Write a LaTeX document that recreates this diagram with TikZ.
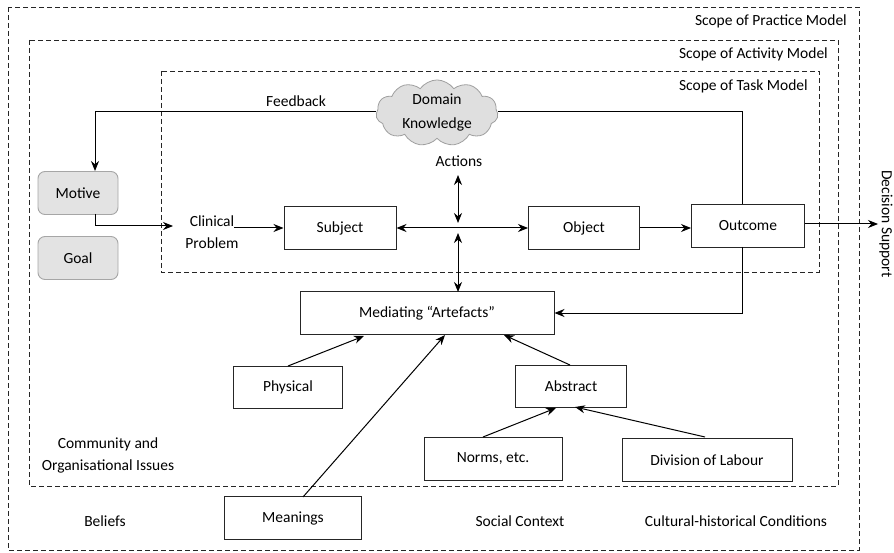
\documentclass[tikz,border=0pt]{standalone}
\usepackage{fontspec}
\setmainfont{Carlito}
\usetikzlibrary{arrows.meta,shapes.symbols}
\begin{document}
\begin{tikzpicture}[x=1pt,y=-1pt,
  font=\fontsize{15.5}{22}\selectfont,
  scope/.style={draw, dashed, dash pattern=on 5pt off 3pt, line width=0.8pt, draw=black!85},
  box/.style={draw, line width=1pt, inner sep=0pt, draw=black!85},
  gbox/.style={draw=gray!70, fill=gray!22, rounded corners=7pt, line width=0.9pt, inner sep=0pt},
  lbl/.style={inner sep=1pt, align=center},
  arr/.style={line width=1pt, -{Stealth[length=10pt,width=8pt]}},
  darr/.style={line width=1pt, {Stealth[length=10pt,width=8pt]}-{Stealth[length=10pt,width=8pt]}},
  ln/.style={line width=1pt}]
\useasboundingbox (0,0) rectangle (894,553);
% scopes
\draw[scope] (8,7) rectangle (859,550);
\draw[scope] (29,40) rectangle (838,486);
\draw[scope] (161,71) rectangle (819,272);
\node[lbl, anchor=east] (tp) at (848,21) {Scope of Practice Model};
\node[lbl, anchor=east] (ta) at (829,54) {Scope of Activity Model};
\node[lbl, anchor=east] (tt) at (809,86) {Scope of Task Model};
% cloud
\node[cloud, cloud puffs=11, cloud puff arc=110, aspect=2, draw=gray!75, fill=gray!25, line width=0.8pt,
  minimum width=122pt, minimum height=62pt, inner sep=0pt, align=center, font=\fontsize{15.5}{24}\selectfont] (dk) at (437,113) {Domain\\Knowledge};
\node[lbl] (fb) at (296,101) {Feedback};
% left boxes
\node[gbox, minimum width=80pt, minimum height=43pt] (mot) at (78,193) {Motive};
\node[gbox, minimum width=80pt, minimum height=43pt] (goal) at (78,258) {Goal};
\node[lbl] (cp) at (212,232) {Clinical\\Problem};
% task boxes
\node[box, minimum width=112pt, minimum height=43pt] (sub) at (340,228) {Subject};
\node[box, minimum width=111pt, minimum height=43pt] (obj) at (584,228) {Object};
\node[box, minimum width=113pt, minimum height=43pt] (out) at (748,226) {Outcome};
\node[lbl] (act) at (459,161) {Actions};
% mediating
\node[box, minimum width=254pt, minimum height=43pt] (med) at (427,313) {Mediating “Artefacts”};
\node[box, minimum width=109pt, minimum height=42pt] (phy) at (288,387) {Physical};
\node[box, minimum width=111pt, minimum height=42pt] (abs) at (571,386) {Abstract};
\node[box, minimum width=138pt, minimum height=43pt] (nor) at (493,459) {Norms, etc.};
\node[box, minimum width=170pt, minimum height=43pt] (div) at (707,460) {Division of Labour};
\node[box, minimum width=137pt, minimum height=43pt] (mea) at (293,518) {Meanings};
% texts
\node[lbl] (com) at (108,455) {Community and\\Organisational Issues};
\node[lbl] (bel) at (105,521) {Beliefs};
\node[lbl] (soc) at (520,521) {Social Context};
\node[lbl] (cul) at (736,521) {Cultural-historical Conditions};
\node[lbl, rotate=-90] (ds) at (886,224) {Decision Support};
% feedback loop
\draw[arr] (dk.west |- 0,112) -- (95,112) -- (95,171);
\draw[ln] (dk.east |- 0,112) -- (742,112) -- (742,204);
% motive to clinical problem
\draw[ln] (95,214) -- (95,226);
\draw[arr] (95,226) -- (173,226);
\draw[arr] (234,228) -- (sub.west);
% actions
\draw[darr] (sub.east) -- (obj.west);
\draw[darr] (458,175) -- (458,223);
\draw[darr] (458,233) -- (458,292);
\draw[arr] (obj.east) -- (out.west |- 0,228);
\draw[arr] (out.east |- 0,224) -- (878,224);
\draw[arr] (742,247) -- (742,313) -- (med.east |- 0,313);
% artefacts
\draw[arr] (288,366) -- (364,336);
\draw[arr] (303,497) -- (445,335);
\draw[arr] (570,365) -- (504,335);
\draw[arr] (483,437) -- (556,408);
\draw[arr] (705,437) -- (575,407);
\end{tikzpicture}
\end{document}
